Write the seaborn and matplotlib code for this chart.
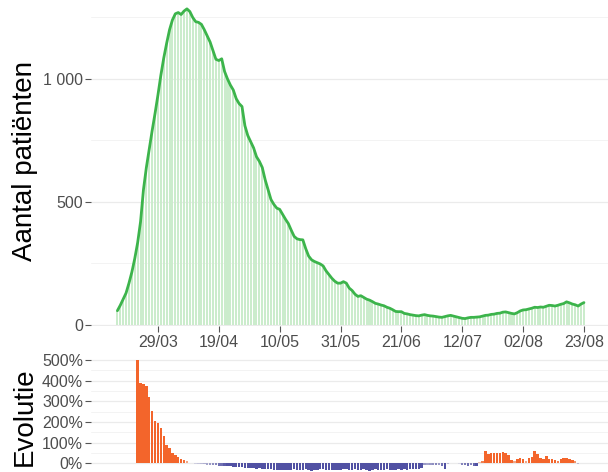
import numpy as np
import pandas as pd
import matplotlib
matplotlib.use('Agg')
import matplotlib.pyplot as plt
import seaborn as sns
from matplotlib.colors import to_rgb

# Patients in intensive care, one value per day starting 15/03
start_date = '2020-03-15'
patients = [
    58, 80, 105, 130, 170, 215, 270, 335, 420, 550,
    640, 715, 790, 860, 935, 1015, 1085, 1145, 1200, 1240,
    1265, 1270, 1262, 1276, 1285, 1274, 1250, 1233, 1230, 1222,
    1200, 1175, 1150, 1115, 1080, 1075, 1082, 1030, 1000, 975,
    955, 920, 900, 888, 810, 770, 745, 720, 684, 665,
    640, 590, 550, 510, 490, 475, 470, 450, 430, 412,
    385, 360, 350, 347, 346, 310, 280, 265, 258, 253,
    248, 240, 220, 205, 190, 178, 170, 170, 176, 170,
    150, 140, 125, 116, 119, 112, 105, 101, 95, 88,
    85, 81, 78, 72, 68, 62, 55, 54, 54, 47,
    45, 42, 40, 38, 37, 40, 42, 39, 37, 36,
    34, 32, 31, 34, 37, 39, 36, 33, 30, 27,
    26, 29, 31, 31, 32, 33, 36, 39, 40, 43,
    44, 47, 48, 52, 53, 50, 47, 45, 50, 57,
    61, 62, 65, 68, 72, 71, 73, 72, 76, 80,
    79, 77, 80, 84, 87, 94, 90, 85, 82, 77,
    85, 91,
]

# Evolution in percent, one value per day starting 22/03
evo_start = '2020-03-22'
evolution = [
    500, 389, 384, 373, 321, 251, 202, 195, 171, 132,
    87, 75, 51, 40, 30, 21, 14, 8, 3,
    -1, -3, -4, -5, -6, -7, -8, -9, -10, -12,
    -12, -14, -15, -16, -18, -20, -19, -21, -22, -24,
    -25, -26, -27, -26, -28, -30, -30, -29, -31, -33,
    -32, -31, -32, -34, -32, -30, -33, -35, -31, -30,
    -33, -36, -34, -31, -28, -30, -34, -33, -31, -32,
    -34, -31, -28, -30, -33, -32, -30, -35, -31, -30,
    -33, -36, -32, -30, -31, -33, -32, -30, -34, -33,
    -31, -29, -32, -30, -31, -28, -30, -29, -27, -25,
    -8, -7, -8, -9, -10, -8, -12, -30, -5, -1,
    3, -1, -2, -10, -11, -12, -10, -13, -15,
    5, 12, 59, 45, 50, 48, 50, 47, 52, 47,
    40, 15, 8, 20, 25, 22, 8, 25, 28, 57,
    42, 25, 20, 35, 18, 22, 15, 12, 20, 25,
    25, 20, 15, 10, -5, 3, 2,
]

tick_labels = ['29/03', '19/04', '10/05', '31/05', '21/06', '12/07', '02/08', '23/08']

dates = pd.date_range(start_date, periods=len(patients))
df = pd.DataFrame({'date': dates, 'patients': patients})
df['day'] = (df['date'] - dates[0]).dt.days

evo_dates = pd.date_range(evo_start, periods=len(evolution))
df_evo = pd.DataFrame({'date': evo_dates, 'evolutie': evolution})
df_evo['day'] = (df_evo['date'] - dates[0]).dt.days

tick_days = df.loc[df['date'].dt.strftime('%d/%m').isin(tick_labels), 'day'].tolist()

LINE_GREEN = '#3cb44b'
BAR_GREEN = '#cbeccc'
ORANGE = '#f3652b'
BLUE = '#5151a3'
GRID = '#ebebeb'
TXT = '#4d4d4d'


def evo_color(v):
    # fade towards light grey near zero, like a diverging gradient
    t = min(abs(v) / 15.0, 1.0)
    base = np.array(to_rgb(ORANGE if v >= 0 else BLUE))
    mid = np.array(to_rgb('#eeeeee'))
    return tuple(mid + (base - mid) * t)


sns.set_theme(style='white')
plt.rcParams['font.family'] = ['Liberation Sans', 'DejaVu Sans']

W, H = 608, 472
fig = plt.figure(figsize=(W / 100, H / 100), dpi=100)

x_lo, x_hi = -9, 169.3
left = 91.3 / W

# Top panel
ax = fig.add_axes([left, 1 - 326.2 / H, 1 - left, 326.2 / H])
sns.barplot(data=df, x='day', y='patients', native_scale=True, color=BAR_GREEN,
            width=0.7, saturation=1, linewidth=0, ax=ax)
sns.lineplot(data=df, x='day', y='patients', color=LINE_GREEN, linewidth=2, ax=ax)
ax.set_xlim(x_lo, x_hi)
ax.set_ylim(-5, 1321)
ax.set_yticks([0, 500, 1000])
ax.set_yticklabels(['0', '500', '1 000'])
ax.set_yticks([250, 750, 1250], minor=True)
ax.set_xticks(tick_days)
ax.set_xticklabels(tick_labels)
ax.grid(axis='y', which='major', color=GRID, linewidth=0.9)
ax.grid(axis='y', which='minor', color='#f3f3f3', linewidth=0.7)
ax.grid(axis='x', visible=False)
ax.set_axisbelow(True)
ax.tick_params(axis='both', which='major', length=4, width=0.8, color='#555555',
               labelcolor=TXT, labelsize=11.5, pad=2, bottom=True, left=True)
ax.tick_params(axis='y', which='minor', length=0)
ax.set_xlabel('')
ax.set_ylabel('')
sns.despine(ax=ax, left=True, bottom=True)

# Bottom panel
ax2 = fig.add_axes([left, 0, 1 - left, 1 - 353 / H])
sns.barplot(data=df_evo, x='day', y='evolutie', native_scale=True, color=ORANGE,
            width=0.85, saturation=1, linewidth=0, ax=ax2)
for patch, v in zip(ax2.patches, df_evo['evolutie']):
    patch.set_facecolor(evo_color(v))
ax2.set_xlim(x_lo, x_hi)
ax2.set_ylim(-43, 534)
ax2.set_yticks(range(0, 501, 100))
ax2.set_yticklabels([f'{v}%' for v in range(0, 501, 100)])
ax2.set_yticks(range(50, 501, 100), minor=True)
ax2.set_xticks([])
ax2.grid(axis='y', which='major', color=GRID, linewidth=0.9)
ax2.grid(axis='y', which='minor', color='#f3f3f3', linewidth=0.7)
ax2.grid(axis='x', visible=False)
ax2.set_axisbelow(True)
ax2.tick_params(axis='y', which='major', length=4, width=0.8, color='#555555',
                labelcolor=TXT, labelsize=11.5, pad=2, left=True)
ax2.tick_params(axis='y', which='minor', length=0)
ax2.set_xlabel('')
ax2.set_ylabel('')
sns.despine(ax=ax2, left=True, bottom=True)

fig.text(25 / W, 1 - 161 / H, 'Aantal patiënten', rotation=90, ha='center', va='center',
         fontsize=20, color='black')
fig.text(25 / W, 1 - 417 / H, 'Evolutie', rotation=90, ha='center', va='center',
         fontsize=20, color='black')

fig.savefig('out.png', dpi=100)
